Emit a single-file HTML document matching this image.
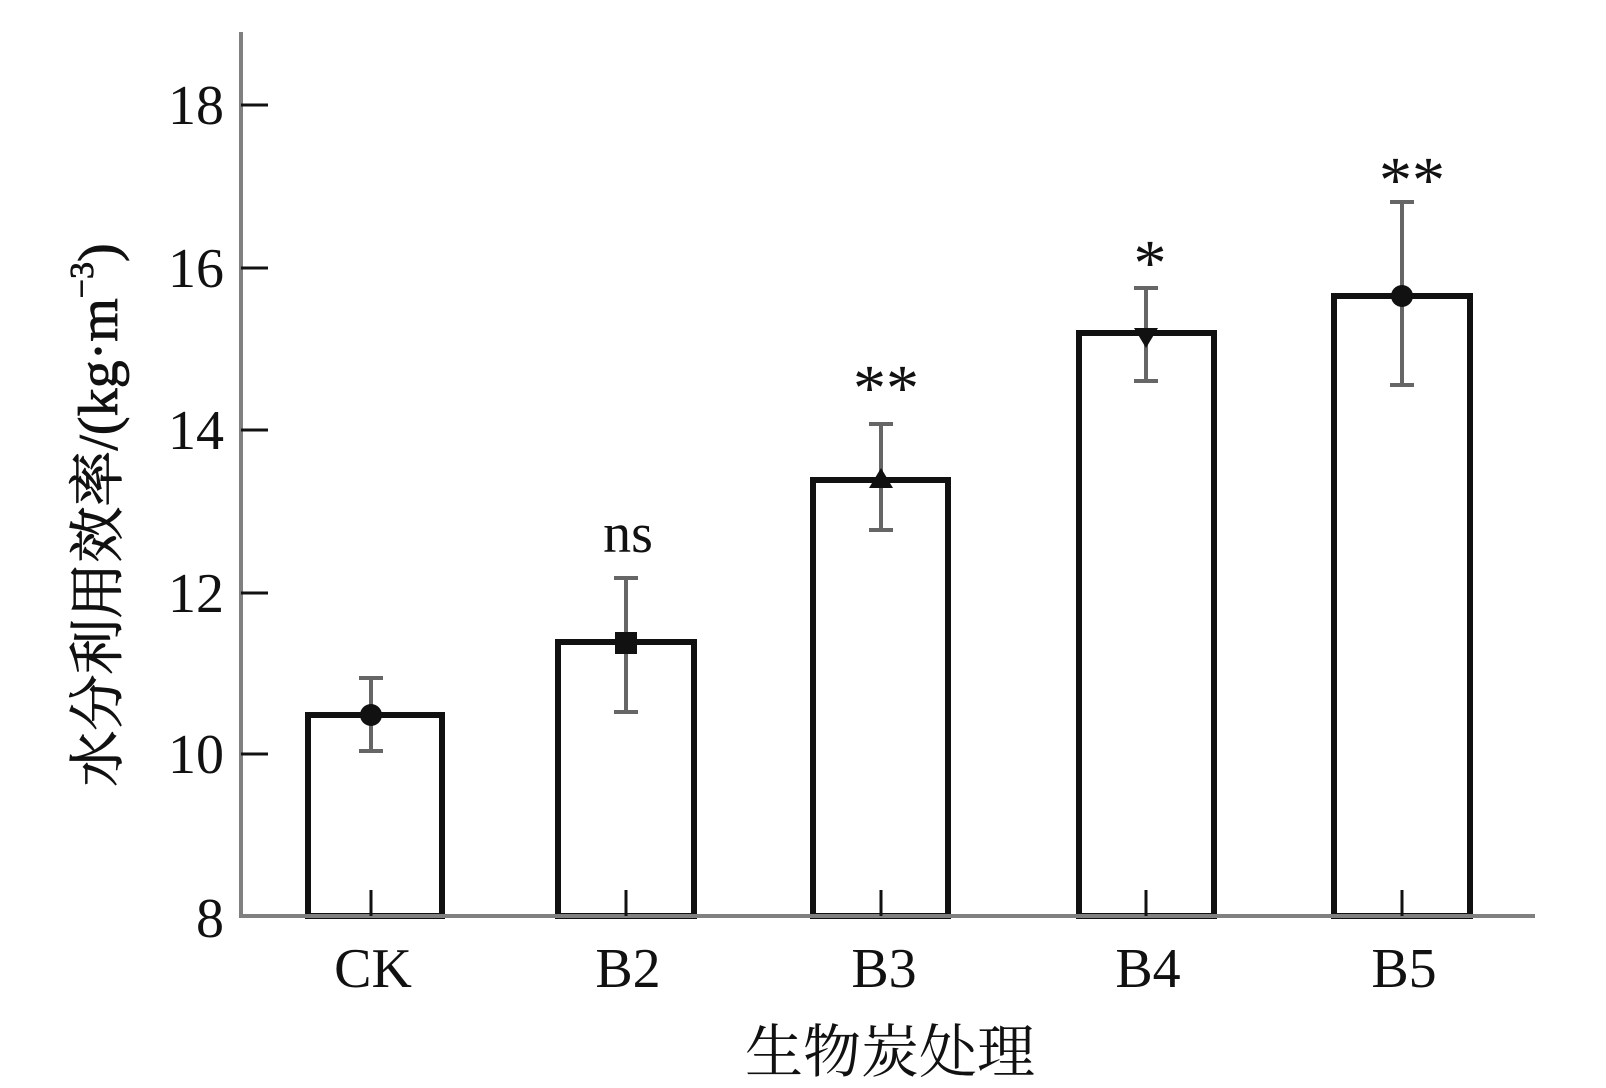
<!DOCTYPE html>
<html><head><meta charset="utf-8"><style>
html,body{margin:0;padding:0;background:#fff;}
svg{display:block;}
text{font-family:"Liberation Serif","Noto Serif CJK SC",serif;fill:#111;}
</style></head><body>
<svg width="1606" height="1088" viewBox="0 0 1606 1088" xmlns="http://www.w3.org/2000/svg">
<line x1="241" y1="32" x2="241" y2="918" stroke="#808080" stroke-width="4"/>
<g stroke="#111" stroke-width="3">
<line x1="241" y1="105" x2="268" y2="105"/>
<line x1="241" y1="268" x2="268" y2="268"/>
<line x1="241" y1="430" x2="268" y2="430"/>
<line x1="241" y1="593" x2="268" y2="593"/>
<line x1="241" y1="754" x2="268" y2="754"/>
</g>
<g font-size="56" text-anchor="end">
<text x="224" y="124">18</text>
<text x="224" y="287">16</text>
<text x="224" y="449">14</text>
<text x="224" y="612">12</text>
<text x="224" y="773">10</text>
<text x="224" y="937">8</text>
</g>
<g fill="#fff" stroke="#111" stroke-width="6">
<rect x="308" y="715" width="134" height="201"/>
<rect x="558" y="642" width="136" height="274"/>
<rect x="813" y="480" width="135" height="436"/>
<rect x="1079" y="333" width="135" height="583"/>
<rect x="1334" y="296" width="136" height="620"/>
</g>
<line x1="239" y1="916" x2="1535" y2="916" stroke="#808080" stroke-width="4"/>
<g stroke="#111" stroke-width="3">
<line x1="371" y1="890" x2="371" y2="916"/>
<line x1="626" y1="890" x2="626" y2="916"/>
<line x1="881" y1="890" x2="881" y2="916"/>
<line x1="1146" y1="890" x2="1146" y2="916"/>
<line x1="1402" y1="890" x2="1402" y2="916"/>
</g>
<g stroke="#666" stroke-width="4">
<line x1="371" y1="678" x2="371" y2="751"/><line x1="359" y1="678" x2="383" y2="678"/><line x1="359" y1="751" x2="383" y2="751"/>
<line x1="626" y1="578" x2="626" y2="712"/><line x1="614" y1="578" x2="638" y2="578"/><line x1="614" y1="712" x2="638" y2="712"/>
<line x1="881" y1="424" x2="881" y2="530"/><line x1="869" y1="424" x2="893" y2="424"/><line x1="869" y1="530" x2="893" y2="530"/>
<line x1="1146" y1="288" x2="1146" y2="381"/><line x1="1134" y1="288" x2="1158" y2="288"/><line x1="1134" y1="381" x2="1158" y2="381"/>
<line x1="1402" y1="202" x2="1402" y2="385"/><line x1="1390" y1="202" x2="1414" y2="202"/><line x1="1390" y1="385" x2="1414" y2="385"/>
</g>
<g fill="#111">
<circle cx="371" cy="715" r="11"/>
<rect x="615" y="632" width="22" height="22"/>
<polygon points="881,468 893,488 869,488"/>
<polygon points="1134,328 1158,328 1146,348"/>
<circle cx="1402" cy="296" r="11"/>
</g>
<text x="628" y="552" font-size="56" text-anchor="middle">ns</text>
<g font-size="66" text-anchor="middle">
<text x="886" y="410">**</text>
<text x="1150" y="285">*</text>
<text x="1412" y="202">**</text>
</g>
<g font-size="56" text-anchor="middle">
<text x="373" y="987">CK</text>
<text x="628" y="987">B2</text>
<text x="884" y="987">B3</text>
<text x="1148" y="987">B4</text>
<text x="1404" y="987">B5</text>
</g>
<text x="890" y="1072" font-size="58" text-anchor="middle">生物炭处理</text>
<text transform="translate(117,515) rotate(-90)" font-size="56" text-anchor="middle" stroke="#111" stroke-width="0.8">水分利用效率/(kg·m<tspan font-size="34" dy="-24">−3</tspan><tspan dy="24">)</tspan></text>
</svg>
</body></html>
